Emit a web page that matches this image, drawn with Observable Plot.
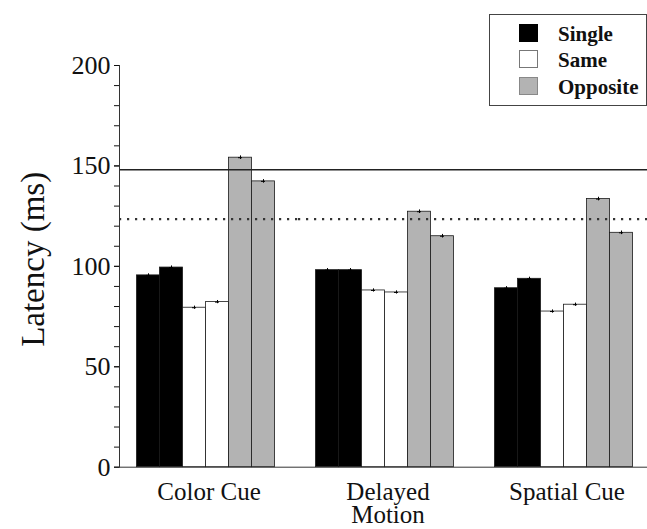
<!DOCTYPE html>
<html>
<head>
<meta charset="utf-8">
<script src="https://cdn.jsdelivr.net/npm/d3@7"></script>
<script src="https://cdn.jsdelivr.net/npm/@observablehq/plot@0.6"></script>
<style>
  body { margin: 0; background: #fff; }
  #wrap { position: relative; width: 647px; height: 529px; overflow: hidden; }
  #wrap svg text { font-family: "Liberation Serif", "Times New Roman", serif; }
  #legend { position: absolute; left: 489px; top: 14px; width: 158px; height: 92px; box-sizing: border-box;
            border: 1px solid #444; background: #fff; font-family: "Liberation Serif", "Times New Roman", serif; }
  #legend .sw { position: absolute; left: 29px; width: 19px; height: 18px; box-sizing: border-box; }
  #legend .lb { position: absolute; left: 68px; font-size: 21px; font-weight: bold; line-height: 21px; color: #111; }
</style>
</head>
<body>
<div id="wrap"></div>
<script>
// ---- data ----
const groups = ["Color Cue", "Delayed Motion", "Spatial Cue"];
const groupLabels = ["Color Cue", "Delayed\nMotion", "Spatial Cue"];
const conditions = ["Single", "Same", "Opposite"];
const conditionColors = ["#000000", "#ffffff", "#b3b3b3"];
const barConditions = ["Single", "Single", "Same", "Same", "Opposite", "Opposite"];
const barIndex = [0, 1, 2, 3, 4, 5];
const colorCue = [95.5, 99.4, 79.4, 82.2, 154.1, 142.3];
const delayedMotion = [98.1, 98.1, 88.0, 87.0, 127.2, 115.0];
const spatialCue = [89.1, 93.8, 77.5, 80.9, 133.5, 116.7];
const colorCueErr = [0.8, 0.8, 0.8, 0.8, 0.9, 0.9];
const delayedMotionErr = [0.8, 0.8, 0.8, 0.8, 0.9, 0.9];
const spatialCueErr = [0.8, 0.8, 0.8, 0.8, 0.9, 0.9];
const solidRef = 148.1;
const dottedRef = 123.5;
const majorTicks = [0, 50, 100, 150, 200];
const minorTicks = [0, 10, 20, 30, 40, 50, 60, 70, 80, 90, 100, 110, 120, 130, 140, 150, 160, 170, 180, 190, 200];
const yLabel = "Latency (ms)";

const seriesByGroup = [colorCue, delayedMotion, spatialCue];
const errByGroup = [colorCueErr, delayedMotionErr, spatialCueErr];
const rows = groups.flatMap((g, gi) =>
  seriesByGroup[gi].map((v, i) => ({group: g, bar: barIndex[i], cond: barConditions[i], value: v, err: errByGroup[gi][i]}))
);

const font = "Liberation Serif";

const chart = Plot.plot({
  width: 647,
  height: 529,
  marginLeft: 118.5,
  marginRight: 0,
  marginTop: 65,
  marginBottom: 62.3,
  style: {fontFamily: font, background: "transparent", color: "#111", overflow: "visible"},
  fx: {domain: groups, range: [118.5, 656.1], padding: 0},
  x: {domain: barIndex, paddingInner: 0, paddingOuter: 0.733, align: 0.42, axis: null},
  y: {domain: [0, 200]},
  color: {domain: conditions, range: conditionColors},
  marks: [
    Plot.barY(rows, {fx: "group", x: "bar", y: "value", fill: "cond", stroke: "#1a1a1a", strokeWidth: 0.8}),
    Plot.ruleX(rows, {fx: "group", x: "bar", y1: d => d.value - d.err, y2: d => d.value + d.err, stroke: "#000", strokeWidth: 1}),
    Plot.tickY(rows, {fx: "group", x: "bar", y: "value", insetLeft: 9.5, insetRight: 9.5, stroke: "#000", strokeWidth: 1}),
    Plot.ruleY([solidRef], {stroke: "#222", strokeWidth: 1.4}),
    Plot.ruleY([dottedRef], {stroke: "#333", strokeWidth: 2.2, strokeDasharray: "2.2,5.8"}),
    Plot.ruleY([0], {stroke: "#333", strokeWidth: 1}),
    Plot.axisY({ticks: minorTicks, tickSize: 5, tickFormat: () => "", label: null}),
    Plot.axisY({ticks: majorTicks, tickSize: 5, tickPadding: 4, fontSize: 26, fontFamily: font, label: null}),
    Plot.frame({anchor: "left", facetAnchor: "left", stroke: "#333"}),
    Plot.text([yLabel], {frameAnchor: "left", rotate: -90, textAnchor: "middle", lineAnchor: "top", dx: -99, dy: -7, fontSize: 33, fontFamily: font, facetAnchor: "left", fill: "#111"}),
    Plot.axisFx({anchor: "bottom", tickSize: 0, tickPadding: 16, fontSize: 25, fontFamily: font, lineHeight: 0.92, label: null,
                 tickFormat: g => groupLabels[groups.indexOf(g)]})
  ]
});

const wrap = document.getElementById("wrap");
wrap.appendChild(chart);

// legend overlay
const legend = document.createElement("div");
legend.id = "legend";
const swatchTops = [9, 35, 62];
const swatchBorders = ["#000", "#777", "#888"];
conditions.forEach((c, i) => {
  const sw = document.createElement("div");
  sw.className = "sw";
  sw.style.top = swatchTops[i] + "px";
  sw.style.background = conditionColors[i];
  sw.style.border = "1px solid " + swatchBorders[i];
  legend.appendChild(sw);
  const lb = document.createElement("div");
  lb.className = "lb";
  lb.style.top = (swatchTops[i] - 0.5) + "px";
  lb.textContent = c;
  legend.appendChild(lb);
});
wrap.appendChild(legend);
</script>
</body>
</html>
